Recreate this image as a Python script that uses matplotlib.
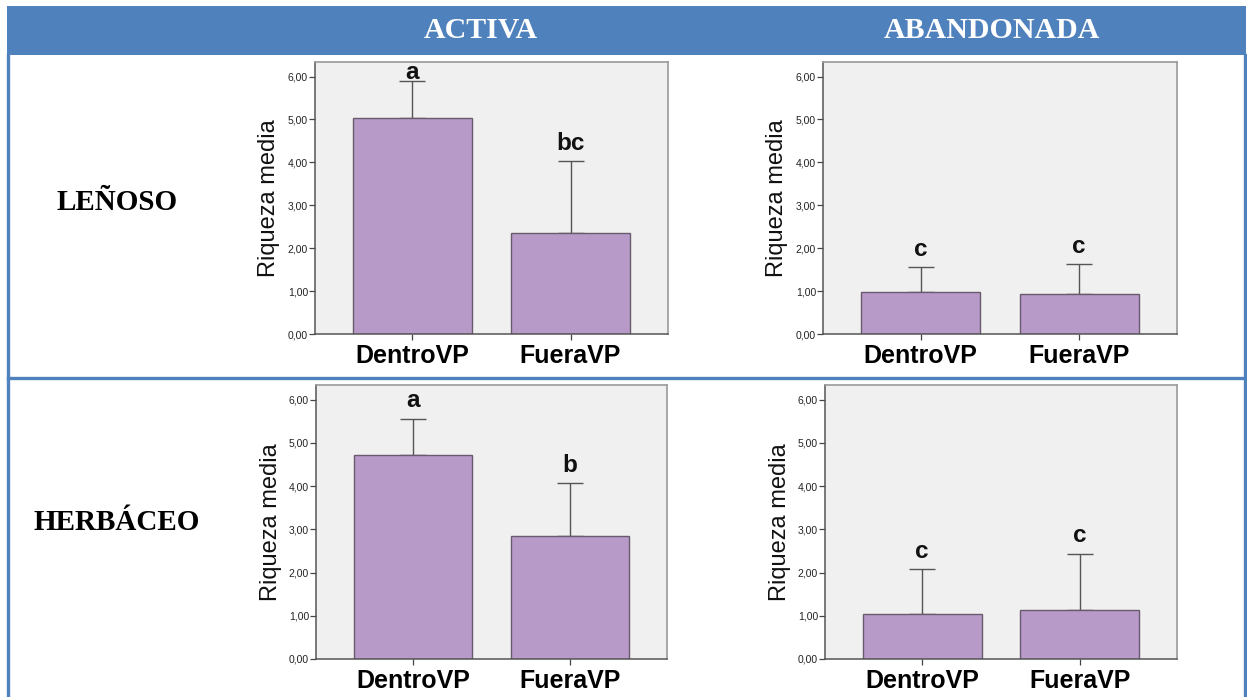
import matplotlib
matplotlib.use("Agg")
import matplotlib.pyplot as plt
from matplotlib.patches import Rectangle
from matplotlib.lines import Line2D

# Datos: riqueza media (con barra de error superior) por zona y estrato
grupos = ["DentroVP", "FueraVP"]
columnas = ["ACTIVA", "ABANDONADA"]
filas = ["LEÑOSO", "HERBÁCEO"]

leñoso_activa = [5.03, 2.35]
leñoso_activa_err = [0.87, 1.68]
leñoso_aband = [0.98, 0.93]
leñoso_aband_err = [0.58, 0.70]
herb_activa = [4.71, 2.85]
herb_activa_err = [0.85, 1.22]
herb_aband = [1.05, 1.14]
herb_aband_err = [1.03, 1.29]

letras_leñoso_activa = ["a", "bc"]
letras_leñoso_aband = ["c", "c"]
letras_herb_activa = ["a", "b"]
letras_herb_aband = ["c", "c"]

ticks_y = [0, 1, 2, 3, 4, 5, 6]
etiquetas_y = ["0,00", "1,00", "2,00", "3,00", "4,00", "5,00", "6,00"]

W, H = 1247, 697
AZUL = "#4F81BD"
SERIF = "Liberation Serif"
SANS = "Liberation Sans"

fig = plt.figure(figsize=(W / 100, H / 100), dpi=100)


def px_rect(x0, y0, x1, y1):
    # convierte una caja en píxeles (origen arriba-izquierda) a fracción de figura
    return [x0 / W, 1 - y1 / H, (x1 - x0) / W, (y1 - y0) / H]


def px_pt(x, y):
    return x / W, 1 - y / H


# Tabla: cabecera azul, bordes y separador de filas
fig.add_artist(Rectangle(px_pt(7, 55), (1246 - 7) / W, (55 - 6) / H,
                         transform=fig.transFigure, facecolor=AZUL, edgecolor="none"))
for (xa, ya), (xb, yb) in [((8, 55), (8, 697)), ((1245, 55), (1245, 697)),
                           ((8, 378), (1245, 378))]:
    p0, p1 = px_pt(xa, ya), px_pt(xb, yb)
    fig.add_artist(Line2D([p0[0], p1[0]], [p0[1], p1[1]], transform=fig.transFigure,
                          color=AZUL, lw=2.4))

for nombre, x in zip(columnas, [481, 992]):
    fig.text(*px_pt(x, 30), nombre, ha="center", va="center", color="white",
             fontsize=21.5, fontweight="bold", family=SERIF)
for nombre, y in zip(filas, [202, 523]):
    fig.text(*px_pt(117, y), nombre, ha="center", va="center", color="black",
             fontsize=21, fontweight="bold", family=SERIF)

paneles = [
    (px_rect(315, 62, 668, 334), leñoso_activa, leñoso_activa_err, letras_leñoso_activa),
    (px_rect(823, 62, 1177, 334), leñoso_aband, leñoso_aband_err, letras_leñoso_aband),
    (px_rect(316, 385, 667, 659), herb_activa, herb_activa_err, letras_herb_activa),
    (px_rect(825, 385, 1177, 659), herb_aband, herb_aband_err, letras_herb_aband),
]

YMAX = 6.34
for rect, medias, errores, letras in paneles:
    ax = fig.add_axes(rect)
    ax.set_facecolor("#F0F0F0")
    x = list(range(len(grupos)))
    ax.bar(x, medias, width=0.753, color="#B89AC8", edgecolor="#6a5a70", linewidth=1.0,
           zorder=2)
    ax.errorbar(x, medias, yerr=[[0] * len(medias), errores], fmt="none",
                ecolor="#555555", elinewidth=1.0, capsize=9.7, capthick=1.0, zorder=1)
    for xi, m, e, letra in zip(x, medias, errores, letras):
        y = min(m + e + 0.15, YMAX - 0.52)
        ax.text(xi, y, letra, ha="center", va="bottom", fontsize=17.5,
                fontweight="bold", family=SANS, color="#111111", zorder=3)
    ax.set_xlim(-0.617, 1.617)
    ax.set_ylim(0, YMAX)
    ax.set_xticks(x)
    ax.set_xticklabels(grupos, fontsize=18, fontweight="bold", family=SANS)
    ax.set_yticks(ticks_y)
    ax.set_yticklabels(etiquetas_y, fontsize=7.5, family=SANS, color="#222222")
    ax.tick_params(axis="x", length=4, width=0.9, color="#444444", pad=3.5)
    ax.tick_params(axis="y", length=4, width=0.9, color="#444444", pad=1)
    ax.set_ylabel("Riqueza media", fontsize=17, family=SANS, color="#111111")
    ax.yaxis.set_label_coords(-0.098, 0.5)
    for lado in ["top", "right"]:
        ax.spines[lado].set_color("#9a9a9a")
        ax.spines[lado].set_linewidth(1.2)
    for lado in ["left", "bottom"]:
        ax.spines[lado].set_color("#555555")
        ax.spines[lado].set_linewidth(1.1)

fig.savefig("out.png", dpi=100)
